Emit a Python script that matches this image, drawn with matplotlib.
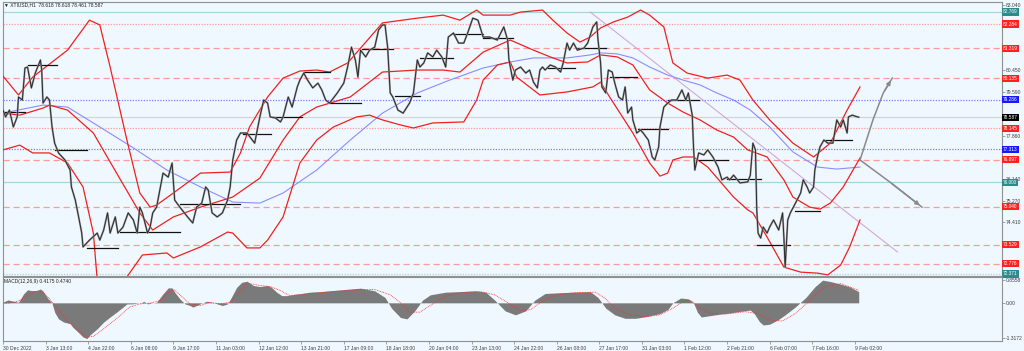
import matplotlib
matplotlib.use("Agg")
import matplotlib.pyplot as plt

W, H = 1024, 351
FONT = ["Liberation Sans", "DejaVu Sans"]
BG = "#f0f8ff"

# XTIUSD H1, x = bar index (hours from 30 Dec 2022), y = price
price_path = [
    (0, 78.87), (2, 78.60), (5, 78.87), (8, 78.20), (11, 78.60), (12, 79.39), (15, 79.27), (17, 80.54),
    (19, 80.58), (22, 79.75), (25, 80.34), (29, 80.86), (30, 80.46), (31, 79.15), (34, 79.39), (36, 79.27),
    (38, 78.20), (40, 77.56), (43, 77.17), (48, 76.89), (52, 76.49), (53, 75.82), (56, 75.30), (58, 74.79),
    (61, 73.99), (62, 73.44), (67, 73.71), (73, 73.99), (75, 73.71), (78, 74.11), (81, 74.79), (83, 73.99),
    (87, 74.63), (89, 73.99), (93, 74.23), (97, 74.79), (101, 74.51), (104, 73.99), (106, 75.02), (108, 74.79),
    (112, 73.99), (114, 74.23), (116, 74.79), (119, 75.02), (124, 76.37), (128, 76.21), (131, 76.77), (133, 75.30),
    (137, 75.02), (143, 74.63), (147, 74.39), (150, 75.02), (154, 75.18), (157, 75.82), (159, 75.70), (162, 74.79),
    (166, 74.63), (170, 74.79), (174, 75.30), (176, 75.82), (178, 76.89), (181, 77.68), (184, 77.96), (189, 77.96),
    (195, 77.56), (199, 78.60), (202, 79.27), (205, 79.15), (207, 78.60), (211, 78.56), (215, 78.40), (217, 78.60),
    (221, 79.39), (224, 78.99), (228, 79.79), (230, 80.06), (233, 80.34), (236, 80.06), (240, 79.75), (244, 79.94),
    (247, 79.67), (250, 79.27), (253, 79.15), (259, 79.55), (264, 79.94), (267, 80.58), (270, 81.37), (273, 80.86),
    (275, 80.18), (277, 81.25), (281, 80.98), (284, 81.25), (288, 81.37), (291, 82.05), (294, 82.25), (296, 82.25),
    (298, 81.37), (300, 79.55), (302, 79.39), (306, 78.87), (310, 78.75), (313, 78.99), (315, 79.15), (318, 79.55),
    (321, 80.86), (323, 80.58), (326, 80.74), (329, 81.14), (333, 80.98), (336, 81.25), (340, 80.98), (343, 80.58),
    (345, 81.77), (349, 81.93), (353, 81.53), (357, 81.53), (360, 81.93), (364, 82.52), (368, 82.44), (372, 81.77),
    (377, 81.77), (383, 81.65), (388, 82.17), (391, 81.65), (392, 80.86), (395, 80.06), (397, 80.46), (401, 80.58),
    (405, 80.34), (408, 80.46), (411, 79.98), (414, 79.75), (416, 80.46), (418, 80.58), (420, 80.46), (424, 80.66),
    (428, 80.58), (432, 80.38), (434, 80.74), (437, 81.53), (439, 81.25), (442, 81.53), (445, 81.25), (450, 81.33),
    (453, 81.53), (457, 82.17), (460, 82.37), (461, 81.65), (463, 80.74), (464, 79.79), (467, 79.55), (469, 80.46),
    (472, 80.38), (474, 79.94), (477, 79.39), (480, 79.27), (482, 79.79), (484, 78.75), (487, 78.99), (488, 78.48),
    (491, 77.96), (494, 78.08), (496, 77.96), (500, 77.68), (503, 77.01), (505, 76.89), (508, 77.41), (509, 78.20),
    (512, 78.99), (515, 79.15), (518, 79.27), (522, 79.27), (526, 79.67), (529, 79.27), (531, 79.55), (534, 78.67),
    (535, 77.41), (536, 76.49), (539, 77.17), (543, 77.09), (546, 77.29), (550, 77.01), (554, 76.61), (557, 76.10),
    (561, 76.21), (563, 76.10), (566, 76.29), (571, 75.98), (577, 76.02), (579, 76.29), (581, 77.56), (583, 77.29),
    (584, 74.91), (585, 73.99), (587, 73.79), (589, 74.23), (592, 73.99), (594, 74.23), (597, 74.51), (601, 74.11),
    (604, 74.79), (605, 73.83), (606, 72.64), (608, 74.51), (610, 74.79), (614, 75.18), (618, 75.58), (620, 76.10),
    (623, 75.82), (625, 75.58), (628, 75.82), (629, 76.49), (631, 77.01), (633, 77.41), (636, 77.68), (639, 77.56),
    (643, 77.56), (646, 78.48), (649, 78.20), (651, 78.48), (654, 77.96), (655, 78.60), (658, 78.67), (662, 78.60),
    (663, 78.59),
]

upper_band = [
    (0, 80.22), (12, 79.47), (23, 80.18), (50, 81.25), (67, 82.44), (75, 82.25), (83, 80.58), (96, 77.68),
    (106, 75.58), (114, 75.02), (119, 75.10), (132, 75.58), (153, 76.37), (176, 76.41), (184, 77.17), (191, 78.20),
    (205, 79.39), (217, 80.14), (230, 80.42), (243, 80.46), (253, 80.38), (267, 80.74), (294, 82.33), (321, 82.52),
    (341, 82.64), (354, 82.44), (367, 82.84), (372, 82.64), (393, 82.64), (401, 82.76), (418, 82.84), (426, 82.44),
    (437, 81.93), (447, 81.57), (455, 81.77), (463, 82.13), (473, 82.37), (484, 82.56), (494, 82.84), (501, 82.64),
    (512, 82.17), (519, 80.74), (530, 80.34), (546, 80.14), (561, 80.26), (571, 80.06), (581, 79.27), (594, 78.48),
    (612, 77.56), (628, 77.01), (641, 77.56), (654, 78.87), (664, 79.79),
]
middle_band = [
    (0, 78.75), (13, 78.67), (31, 78.95), (36, 79.07), (50, 78.87), (70, 77.96), (88, 76.37), (106, 74.79),
    (116, 74.11), (132, 74.63), (153, 75.02), (178, 75.42), (199, 76.17), (217, 77.68), (230, 78.60), (243, 78.99),
    (269, 79.39), (294, 80.38), (321, 80.46), (341, 80.46), (354, 80.38), (372, 81.17), (393, 81.65), (411, 81.25),
    (424, 80.98), (437, 80.74), (453, 80.78), (463, 81.06), (476, 80.98), (488, 80.66), (501, 79.67), (515, 79.15),
    (527, 78.79), (540, 78.48), (553, 78.08), (566, 77.80), (577, 77.29), (592, 77.01), (605, 76.10), (612, 75.42),
    (625, 75.02), (633, 74.94), (641, 75.18), (651, 75.82), (664, 76.97),
]
lower_band = [
    (0, 77.29), (13, 77.48), (23, 77.17), (36, 77.17), (50, 76.77), (62, 75.82), (70, 73.99), (73, 72.13),
    (83, 71.53), (96, 72.25), (108, 73.12), (127, 73.20), (132, 73.00), (153, 73.44), (174, 74.03), (178, 73.99),
    (189, 73.40), (199, 73.40), (205, 73.71), (217, 74.63), (230, 76.77), (243, 77.68), (256, 78.20), (274, 78.60),
    (284, 78.67), (294, 78.48), (308, 78.28), (318, 78.16), (333, 78.36), (357, 78.40), (367, 79.27), (372, 80.06),
    (383, 80.66), (393, 80.78), (398, 80.18), (416, 79.47), (437, 79.59), (457, 79.79), (463, 79.98), (470, 79.39),
    (488, 77.96), (501, 76.77), (509, 76.25), (515, 76.37), (519, 76.89), (527, 77.01), (535, 77.01), (546, 76.61),
    (566, 75.42), (577, 74.91), (581, 74.79), (592, 73.83), (605, 72.64), (618, 72.44), (631, 72.40), (639, 72.33),
    (649, 72.72), (656, 73.44), (664, 74.51),
]
slow_ma = [
    (0, 78.75), (31, 79.07), (50, 78.99), (75, 78.20), (101, 77.37), (127, 76.49), (153, 75.82), (178, 75.22),
    (199, 75.18), (217, 75.58), (243, 76.49), (269, 77.68), (294, 78.75), (321, 79.55), (346, 80.06), (372, 80.54),
    (393, 80.78), (411, 80.94), (437, 80.94), (455, 81.06), (463, 81.14), (476, 81.10), (488, 80.94), (501, 80.58),
    (515, 80.26), (527, 80.06), (540, 79.87), (553, 79.55), (566, 79.27), (579, 78.87), (594, 78.20), (612, 77.21),
    (631, 76.61), (646, 76.53), (664, 76.61),
]
# session levels: (first bar, last bar, price)
pivots = [
    (0, 17, 78.79), (19, 42, 80.66), (40, 65, 77.29), (65, 89, 73.40), (91, 137, 74.03), (137, 184, 75.14),
    (186, 208, 77.92), (209, 232, 78.60), (233, 253, 80.38), (253, 277, 79.15), (278, 302, 81.28), (304, 323, 79.43),
    (323, 349, 80.94), (349, 372, 81.89), (372, 395, 81.73), (422, 443, 80.54), (445, 467, 81.33), (470, 491, 80.18),
    (492, 515, 78.12), (515, 539, 79.27), (539, 562, 76.89), (561, 587, 76.14), (584, 610, 73.52), (614, 633, 74.86),
    (635, 658, 77.68),
]
trend_line = [(455, 82.76), (693, 73.24)]
arrow_up = [(664, 76.89), (669, 77.68), (674, 78.48), (682, 79.55), (689, 80.14)]
arrow_down = [(664, 76.89), (687, 76.02), (712, 75.02)]

# horizontal levels: value, line colour, line style, label colour
levels = [
    (82.769, "#a6d6d6", "solid", "#2c8c8c"),
    (82.284, "#ff9a9a", "dotted", "#ff2020"),
    (81.319, "#ff9a9a", "dashed", "#ff2020"),
    (80.135, "#ff9a9a", "dashed", "#ff2020"),
    (79.286, "#7c7cff", "dotted", "#1818ff"),
    (78.587, "#d4d4d4", "solid", "#000000"),
    (78.145, "#ff9a9a", "dotted", "#ff2020"),
    (77.313, "#7c7cff", "dotted", "#1818ff"),
    (76.897, "#ff9a9a", "dashed", "#ff2020"),
    (76.000, "#a6d6d6", "solid", "#2c8c8c"),
    (75.040, "#ff9a9a", "dashed", "#ff2020"),
    (73.529, "#ff9a9a", "dashed", "#ff2020"),
    (72.776, "#ff9a9a", "dashed", "#ff2020"),
    (72.371, "#a6d6d6", "dotted", "#2c8c8c"),
]
price_ticks = [83.04, 82.18, 81.32, 80.45, 79.59, 78.72, 77.86, 77.00, 76.14, 75.27, 74.41, 73.55, 72.68]
# tick labels that sit under a level label in the terminal
hidden_ticks = [82.18, 81.32, 78.72, 77.00, 73.55, 72.68]

# MACD(12,26,9): histogram and signal, x = bar index
macd_hist = [
    (0, 0.03), (4, 0.11), (8, 0.06), (12, 0.02), (16, 0.34), (19, 0.49), (22, 0.46), (26, 0.46), (29, 0.52),
    (31, 0.44), (35, 0.15), (38, -0.01), (40, -0.35), (43, -0.60), (47, -0.72), (52, -0.78), (54, -0.91),
    (58, -1.09), (62, -1.28), (65, -1.34), (67, -1.22), (73, -0.97), (78, -0.72), (83, -0.53), (88, -0.35),
    (93, -0.16), (96, -0.04), (100, -0.04), (104, -0.01), (108, 0.02), (109, 0.06), (112, -0.04), (115, -0.01),
    (119, 0.02), (124, 0.34), (128, 0.56), (131, 0.56), (133, 0.40), (137, 0.15), (141, -0.04), (145, -0.10),
    (147, -0.16), (150, -0.10), (154, -0.01), (158, 0.06), (162, 0.02), (166, -0.04), (170, -0.10), (174, -0.04),
    (177, 0.21), (181, 0.58), (185, 0.77), (189, 0.81), (194, 0.65), (199, 0.61), (205, 0.65), (208, 0.58),
    (212, 0.40), (216, 0.27), (220, 0.27), (225, 0.31), (230, 0.34), (238, 0.40), (246, 0.42), (253, 0.45),
    (265, 0.50), (277, 0.55), (288, 0.45), (296, 0.20), (301, -0.20), (308, -0.55), (313, -0.60), (319, -0.30),
    (325, 0.10), (331, 0.30), (343, 0.40), (354, 0.42), (366, 0.45), (374, 0.40), (381, 0.10), (389, -0.30),
    (397, -0.45), (405, -0.30), (412, 0.10), (420, 0.35), (432, 0.38), (443, 0.40), (455, 0.42), (461, 0.20),
    (467, -0.20), (474, -0.45), (482, -0.58), (490, -0.58), (498, -0.52), (509, -0.40), (515, -0.25), (519, 0.00),
    (525, 0.18), (531, 0.15), (535, 0.00), (538, -0.35), (541, -0.53), (548, -0.48), (556, -0.42), (563, -0.38),
    (571, -0.32), (579, -0.27), (582, -0.40), (586, -0.70), (589, -0.83), (594, -0.80), (600, -0.65), (606, -0.45),
    (614, -0.15), (622, 0.20), (629, 0.60), (635, 0.85), (641, 0.80), (649, 0.70), (656, 0.60), (663, 0.42),
]
macd_signal = [
    (0, -0.04), (8, 0.02), (13, 0.09), (19, 0.27), (26, 0.44), (31, 0.40), (36, 0.15), (42, -0.22), (50, -0.66),
    (57, -0.97), (65, -1.28), (70, -1.26), (75, -1.09), (83, -0.78), (91, -0.47), (98, -0.16), (106, -0.04),
    (114, -0.01), (122, 0.09), (129, 0.43), (133, 0.48), (139, 0.21), (145, -0.04), (153, -0.10), (160, 0.02),
    (168, -0.04), (176, 0.02), (184, 0.46), (190, 0.73), (199, 0.65), (207, 0.61), (215, 0.46), (222, 0.27),
    (230, 0.31), (246, 0.38), (261, 0.44), (277, 0.50), (288, 0.50), (300, 0.30), (308, 0.00), (315, -0.35),
    (323, -0.35), (331, -0.10), (343, 0.25), (354, 0.38), (370, 0.42), (381, 0.30), (393, -0.05), (401, -0.30),
    (409, -0.25), (416, 0.00), (428, 0.30), (443, 0.38), (459, 0.40), (467, 0.15), (474, -0.20), (486, -0.45),
    (498, -0.52), (509, -0.45), (519, -0.20), (527, 0.05), (533, 0.08), (540, -0.20), (548, -0.40), (560, -0.42),
    (575, -0.33), (585, -0.40), (594, -0.65), (604, -0.68), (614, -0.40), (622, -0.05), (629, 0.30), (637, 0.60),
    (649, 0.72), (656, 0.60), (663, 0.47),
]
time_labels = ["30 Dec 2022", "3 Jan 13:00", "4 Jan 22:00", "6 Jan 08:00", "9 Jan 17:00", "11 Jan 03:00",
               "12 Jan 12:00", "13 Jan 21:00", "17 Jan 09:00", "18 Jan 18:00", "20 Jan 04:00", "23 Jan 13:00",
               "24 Jan 22:00", "26 Jan 08:00", "27 Jan 17:00", "31 Jan 03:00", "1 Feb 12:00", "2 Feb 21:00",
               "6 Feb 07:00", "7 Feb 16:00", "9 Feb 02:00"]
BARS_PER_LABEL = 33


def xy(pts):
    return [p[0] for p in pts], [p[1] for p in pts]


def fig_box(x0, y0, x1, y1):
    return [x0 / W, 1 - y1 / H, (x1 - x0) / W, (y1 - y0) / H]


fig = plt.figure(figsize=(W / 100, H / 100), dpi=100, facecolor=BG)
ax = fig.add_axes(fig_box(3, 2, 1002, 276), facecolor=BG)
ax2 = fig.add_axes(fig_box(3, 277, 1002, 341), facecolor=BG, sharex=ax)

# main pane
for v, col, ls, lab in levels:
    if ls == "dashed":
        ax.axhline(v, color=col, lw=0.9, dashes=(5, 3), zorder=1)
    elif ls == "dotted":
        ax.axhline(v, color=col, lw=0.9, dashes=(1, 1.2), zorder=1)
    else:
        ax.axhline(v, color=col, lw=0.9, zorder=1)
    ax.text(1.001, v, f"{v:.3f}", transform=ax.get_yaxis_transform(), fontsize=3.4, family=FONT,
            color="white", va="center", ha="left", clip_on=False, zorder=6,
            bbox=dict(boxstyle="square,pad=0.25", fc=lab, ec="none"))

ax.plot(*xy(trend_line), color="#d2a8d8", lw=0.8, zorder=2)
ax.plot(*xy(slow_ma), color="#8c8cff", lw=0.8, zorder=2)
for band in (upper_band, middle_band, lower_band):
    ax.plot(*xy(band), color="#f02020", lw=0.9, zorder=3)
for b0, b1, v in pivots:
    ax.plot([b0, b1], [v, v], color="#111111", lw=0.9, zorder=4)

px, py = xy(price_path)
ax.plot(px, py, color="#a0a0a0", lw=1.4, zorder=4)
ax.plot(px, py, color="#2a2a2a", lw=0.7, zorder=5)

for path in (arrow_up, arrow_down):
    ax.plot(*xy(path), color="#8a8a8a", lw=1.1, zorder=4)
    ax.annotate("", xy=path[-1], xytext=path[-2],
                arrowprops=dict(arrowstyle="-|>", color="#8a8a8a", lw=1.1, mutation_scale=6), zorder=4)

ax.set_xlim(0, 774)
ax.set_ylim(72.286, 83.16)
ax.yaxis.tick_right()
ax.set_yticks(price_ticks)
ax.set_yticklabels(["" if t in hidden_ticks else f"{t:.3f}" for t in price_ticks],
                   fontsize=3.6, family=FONT, color="#404040")
ax.tick_params(axis="y", length=2, width=0.5, color="#808080", pad=1)
ax.tick_params(axis="x", length=0, labelbottom=False)
for s in ax.spines.values():
    s.set_color("#909090")
    s.set_linewidth(0.8)

# MACD pane
hx, hy = xy(macd_hist)
ax2.fill_between(hx, 0, hy, color="#7a7a7a", lw=0, zorder=2)
ax2.plot(*xy(macd_signal), color="#ff3030", lw=0.6, ls=(0, (1, 1)), zorder=3)
ax2.set_ylim(-1.43, 0.968)
ax2.yaxis.tick_right()
ax2.set_yticks([0.8558, 0.0, -1.3172])
ax2.set_yticklabels(["0.8558", "0.00", "-1.3172"], fontsize=3.6, family=FONT, color="#404040")
ax2.tick_params(axis="y", length=2, width=0.5, color="#808080", pad=1)
ticks = [i * BARS_PER_LABEL for i in range(len(time_labels))]
ax2.set_xticks(ticks)
ax2.set_xticklabels(time_labels, fontsize=3.6, family=FONT, color="#404040", ha="left")
ax2.tick_params(axis="x", length=2, width=0.5, color="#808080", pad=1.5)
for s in ax2.spines.values():
    s.set_color("#909090")
    s.set_linewidth(0.8)

fig.text(4 / W, 1 - 5 / H, "\u25bc XTIUSD,H1  78.618 78.618 78.461 78.587", fontsize=3.5, family=FONT,
         color="#202020", va="center", ha="left")
fig.text(4 / W, 1 - 282 / H, "MACD(12,26,9) 0.4175 0.4740", fontsize=3.5, family=FONT,
         color="#202020", va="center", ha="left")

fig.savefig("out.png", dpi=100, facecolor=BG)
